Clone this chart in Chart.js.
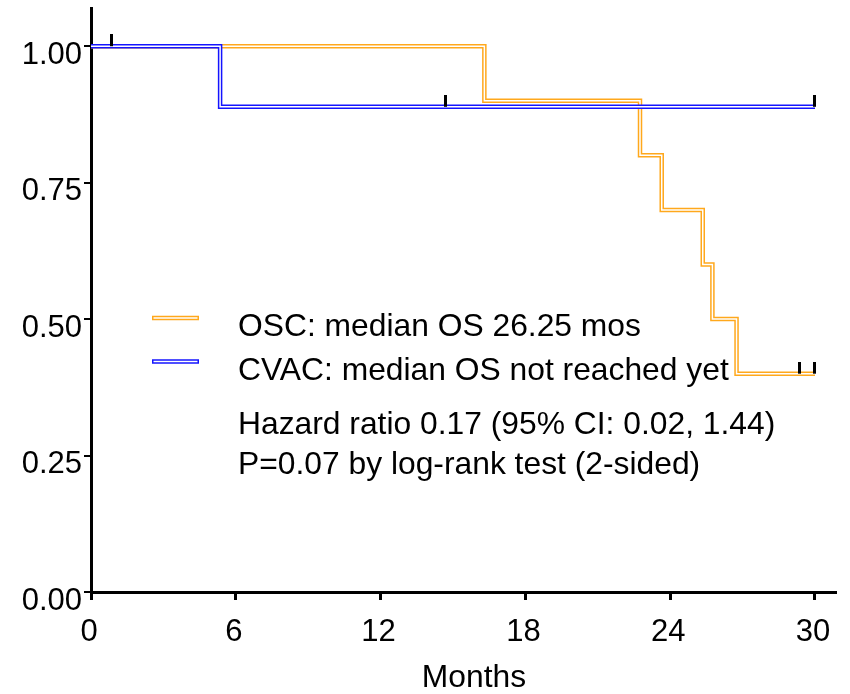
<!DOCTYPE html>
<html>
<head>
<meta charset="utf-8">
<title>Overall survival</title>
<script src="https://cdn.jsdelivr.net/npm/chart.js@4/dist/chart.umd.min.js"></script>
<style>
	html, body { margin: 0; padding: 0; background: #fff; }
	#wrap { width: 850px; height: 694px; }
</style>
</head>
<body>
<div id="wrap"><canvas id="osChart" width="850" height="694"></canvas></div>
<script>
// step points (month of event, survival after it)
var oscMonths = [0, 16.3, 22.75, 23.65, 25.35, 25.75, 26.75, 30];
var oscSurvival = [1, 0.9, 0.8, 0.7, 0.6, 0.5, 0.4, 0.4];
var cvacMonths = [0, 5.35, 30];
var cvacSurvival = [1, 0.889, 0.889];

// censored patients
var oscCensorMonths = [29.35, 30];
var oscCensorSurvival = [0.4, 0.4];
var cvacCensorMonths = [0.87, 14.7, 30];
var cvacCensorSurvival = [1, 0.889, 0.889];

var xTicks = [0, 6, 12, 18, 24, 30];
var yTicks = [0, 0.25, 0.5, 0.75, 1];

var legendLabels = ['OSC: median OS 26.25 mos', 'CVAC: median OS not reached yet'];
var noteLines = ['Hazard ratio 0.17 (95% CI: 0.02, 1.44)', 'P=0.07 by log-rank test (2-sided)'];
var xTitle = 'Months';

var ORANGE = '#ffa81c';
var BLUE = '#1414ff';
var FONT = '"Liberation Sans", Arial, sans-serif';

function toPoints(xs, ys) {
	var pts = [];
	for (var i = 0; i < xs.length; i++) {
		pts.push({ x : xs[i], y : ys[i] });
	}
	return pts;
}

// small vertical tick sitting on top of the curve
var censorMark = document.createElement('canvas');
censorMark.width = 3;
censorMark.height = 24;
var cm = censorMark.getContext('2d');
cm.fillStyle = '#000';
cm.fillRect(0, 0, 3, 12);

function curve(pts, color, width, order) {
	return {
		data : pts,
		borderColor : color,
		borderWidth : width,
		stepped : true,
		pointRadius : 0,
		fill : false,
		borderCapStyle : 'butt',
		borderJoinStyle : 'miter',
		order : order
	};
}

function censors(pts, order) {
	return {
		data : pts,
		showLine : false,
		pointStyle : censorMark,
		pointRadius : 6,
		order : order
	};
}

var textPlugin = {
	id : 'osText',
	afterDatasetsDraw : function(chart) {
		var ctx = chart.ctx;
		var area = chart.chartArea;
		ctx.save();
		// legend samples
		var colors = [ORANGE, BLUE];
		var rows = [318, 361.5];
		for (var i = 0; i < colors.length; i++) {
			ctx.beginPath();
			ctx.moveTo(152, rows[i]);
			ctx.lineTo(199, rows[i]);
			ctx.strokeStyle = colors[i];
			ctx.lineWidth = 4.5;
			ctx.stroke();
			ctx.beginPath();
			ctx.moveTo(153.5, rows[i]);
			ctx.lineTo(197.5, rows[i]);
			ctx.strokeStyle = '#fff';
			ctx.lineWidth = 1.5;
			ctx.stroke();
		}
		ctx.fillStyle = '#000';
		ctx.font = '31.8px ' + FONT;
		ctx.textBaseline = 'middle';
		ctx.textAlign = 'left';
		ctx.fillText(legendLabels[0], 238, 327);
		ctx.fillText(legendLabels[1], 238, 371);
		ctx.fillText(noteLines[0], 238, 425);
		ctx.fillText(noteLines[1], 238, 465);
		ctx.textAlign = 'center';
		ctx.fillText(xTitle, (area.left + area.right) / 2 + 11, 678);
		ctx.restore();
	}
};

var chart = new Chart(document.getElementById('osChart'), {
	type : 'line',
	data : {
		datasets : [
			curve(toPoints(oscMonths, oscSurvival), ORANGE, 4.5, 8),
			curve(toPoints(oscMonths, oscSurvival), '#fff', 1.5, 7),
			curve(toPoints(cvacMonths, cvacSurvival), BLUE, 4.5, 6),
			curve(toPoints(cvacMonths, cvacSurvival), '#fff', 1.5, 5),
			censors(toPoints(oscCensorMonths, oscCensorSurvival), 2),
			censors(toPoints(cvacCensorMonths, cvacCensorSurvival), 1)
		]
	},
	options : {
		responsive : false,
		animation : false,
		events : [],
		devicePixelRatio : 1,
		layout : {
			padding : { top : 8, right : 15, left : 0, bottom : 0 }
		},
		plugins : {
			legend : { display : false },
			tooltip : { enabled : false }
		},
		scales : {
			x : {
				type : 'linear',
				min : 0,
				max : 30.83,
				afterBuildTicks : function(scale) {
					scale.ticks = xTicks.map(function(v) { return { value : v }; });
				},
				afterFit : function(scale) {
					scale.height = 102;
					scale.paddingLeft = 0;
					scale.paddingRight = 0;
				},
				grid : {
					drawOnChartArea : false,
					drawTicks : true,
					tickLength : 8,
					color : '#000',
					lineWidth : 3
				},
				border : { display : true, color : '#000', width : 3 },
				ticks : {
					autoSkip : false,
					maxRotation : 0,
					padding : 14,
					labelOffset : -2,
					color : '#000',
					font : { family : FONT, size : 31 }
				}
			},
			y : {
				type : 'linear',
				min : 0,
				max : 1.07,
				afterBuildTicks : function(scale) {
					scale.ticks = yTicks.map(function(v) { return { value : v }; });
				},
				afterFit : function(scale) {
					scale.width = 91;
					scale.paddingTop = 0;
					scale.paddingBottom = 0;
				},
				grid : {
					drawOnChartArea : false,
					drawTicks : true,
					tickLength : 7,
					color : '#000',
					lineWidth : 2
				},
				border : { display : true, color : '#000', width : 3 },
				ticks : {
					autoSkip : false,
					padding : 2,
					labelOffset : 9,
					color : '#000',
					font : { family : FONT, size : 31 },
					callback : function(v) { return Number(v).toFixed(2); }
				}
			}
		}
	},
	plugins : [textPlugin]
});
</script>
</body>
</html>
